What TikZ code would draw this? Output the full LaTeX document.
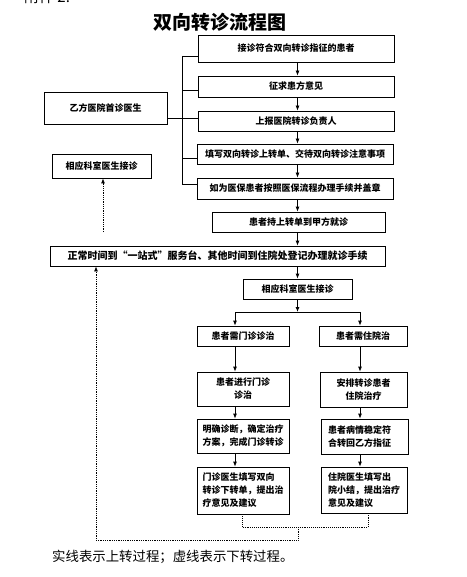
\documentclass[tikz,border=0pt]{standalone}
\usepackage{fontspec}
\setmainfont{Noto Sans CJK SC}
\usetikzlibrary{arrows.meta}
\XeTeXlinebreaklocale "zh"
\XeTeXlinebreakskip=0pt plus 1pt
\newcommand\spr[2]{\makebox[#1][s]{#2}}
\begin{document}
\begin{tikzpicture}[x=1pt,y=-1pt,
  box/.style={draw, line width=0.8pt, inner sep=0pt, font=\fontsize{9}{13}\selectfont\bfseries, align=center},
  ln/.style={line width=0.8pt},
  arr/.style={-{Latex[length=5pt,width=4pt]}, line width=0.8pt},
  dotl/.style={densely dotted, line width=0.9pt}]
\useasboundingbox[fill=white] (0,0) rectangle (466,577);
% header and title
\node[font=\fontsize{15}{15}\selectfont] (hdr) at (47,-3) {附件 2:};
\node[font=\fontsize{19}{19}\selectfont\bfseries] (title) at (220,22) {双向转诊流程图};
% top chain
\node[box, minimum width=196pt, minimum height=27pt] (b1) at (296,48.5) {接诊符合双向转诊指征的患者};
\node[box, minimum width=196pt, minimum height=21pt] (b2) at (296,86.5) {征求患方意见};
\node[box, minimum width=196pt, minimum height=20pt] (b3) at (296,121) {上报医院转诊负责人};
\node[box, minimum width=196pt, minimum height=20pt] (b4) at (295,154) {填写双向转诊上转单、交待双向转诊注意事项};
\node[box, minimum width=196pt, minimum height=21pt] (b5) at (295,188.5) {如为医保患者按照医保流程办理手续并盖章};
\node[box, minimum width=173pt, minimum height=20pt] (b6) at (298.5,222) {患者持上转单到甲方就诊};
\node[box, minimum width=335pt, minimum height=20pt, font=\fontsize{10}{13}\selectfont\bfseries] (b7) at (217.5,256) {正常时间到“一站式”服务台、其他时间到住院处登记办理就诊手续};
% left boxes
\node[box, minimum width=123pt, minimum height=32pt] (bL1) at (105.5,108) {乙方医院首诊医生};
\node[box, minimum width=99pt, minimum height=24pt] (bL2) at (101.5,166) {相应科室医生接诊};
% lower part
\node[box, minimum width=109pt, minimum height=20pt] (b8) at (297.5,289) {相应科室医生接诊};
\node[box, minimum width=92pt, minimum height=20pt] (b9L) at (243,336) {患者需门诊诊治};
\node[box, minimum width=88pt, minimum height=20pt] (b9R) at (363,336) {患者需住院治};
\node[box, minimum width=92pt, minimum height=34pt] (b10L) at (243,389) {患者进行门诊\\诊治};
\node[box, minimum width=87pt, minimum height=35pt] (b10R) at (363.5,389.5) {安排转诊患者\\住院治疗};
\node[box, minimum width=92pt, minimum height=34pt, align=left] (b11L) at (243,436) {明确诊断，确定治疗\\方案，完成门诊转诊};
\node[box, minimum width=87pt, minimum height=35pt, align=left] (b11R) at (364.5,436.5) {\spr{73pt}{患者病情稳定符}\\合转回乙方指征};
\node[box, minimum width=92pt, minimum height=47pt, align=left] (b12L) at (243,490.5) {\spr{81pt}{门诊医生填写双向}\\转诊下转单，提出治\\疗意见及建议};
\node[box, minimum width=86pt, minimum height=46pt, align=left] (b12R) at (364,490) {\spr{72pt}{住院医生填写出}\\院小结，提出治疗\\意见及建议};
% footer
\node[anchor=west, inner sep=0pt, font=\fontsize{13.4}{14}\selectfont] (foot) at (52,557) {实线表示上转过程；虚线表示下转过程。};
% coordinates
\coordinate (ax) at (297.5,0);
\coordinate (lx) at (235,0);
\coordinate (rx) at (360,0);
\coordinate (j) at (297.5,312);
\coordinate (k1) at (182,56);
\coordinate (k2) at (182,90);
\coordinate (k3) at (182,118);
\coordinate (k4) at (182,158);
\coordinate (k5) at (182,184);
% bracket
\draw[ln] (k1) -- (k5);
\draw[ln] (k1) -- (k1 -| b1.west);
\draw[ln] (k2) -- (k2 -| b2.west);
\draw[ln] (bL1.east |- k3) -- (k3 -| b3.west);
\draw[ln] (k4) -- (k4 -| b4.west);
\draw[ln] (k5) -- (k5 -| b5.west);
% chain arrows
\draw[arr] (b1.south -| ax) -- (b2.north -| ax);
\draw[arr] (b2.south -| ax) -- (b3.north -| ax);
\draw[arr] (b3.south -| ax) -- (b4.north -| ax);
\draw[arr] (b4.south -| ax) -- (b5.north -| ax);
\draw[arr] (b5.south -| ax) -- (b6.north -| ax);
\draw[arr] (b6.south -| ax) -- (b7.north -| ax);
\draw[arr] (b7.south -| ax) -- (b8.north -| ax);
\draw[arr] (b8.south -| ax) -- (j);
\draw[ln] (j -| lx) -- (j -| rx);
\draw[arr] (j -| lx) -- (b9L.north -| lx);
\draw[arr] (j -| rx) -- (b9R.north -| rx);
\draw[arr] (b9L.south -| lx) -- (b10L.north -| lx);
\draw[arr] (b10L.south -| lx) -- (b11L.north -| lx);
\draw[arr] (b11L.south -| lx) -- (b12L.north -| lx);
\draw[arr] (b9R.south -| rx) -- (b10R.north -| rx);
\draw[arr] (b10R.south -| rx) -- (b11R.north -| rx);
\draw[arr] (b11R.south -| rx) -- (b12R.north -| rx);
% dotted (downward referral)
\coordinate (d1) at (103,232);
\draw[dotl, arr] (d1) -- (d1 |- bL2.south);
\coordinate (m1) at (242,527);
\coordinate (m2) at (368,527);
\coordinate (m3) at (298,527);
\coordinate (m4) at (298,540);
\coordinate (m5) at (96,540);
\draw[dotl] (b12L.south -| m1) -- (m1) -- (m2) -- (b12R.south -| m2);
\draw[dotl, arr] (m3) -- (m4) -- (m5) -- (b7.south -| m5);
\end{tikzpicture}
\end{document}
